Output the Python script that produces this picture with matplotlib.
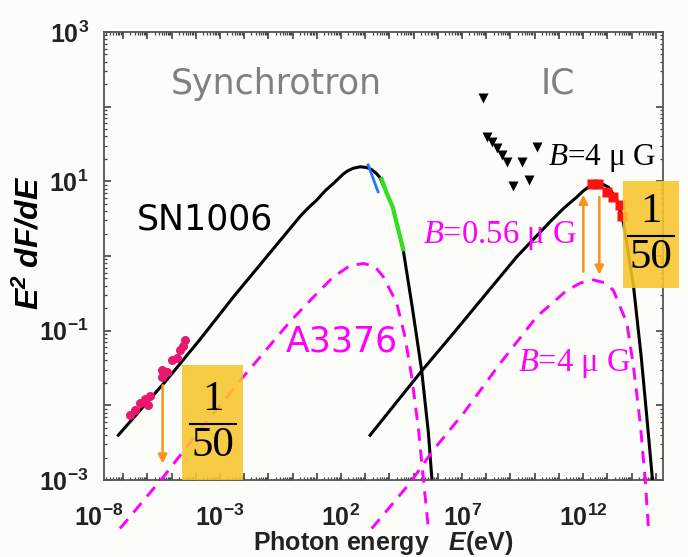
import numpy as np
import matplotlib
matplotlib.use("Agg")
from matplotlib import pyplot as plt
from matplotlib.ticker import LogLocator, FuncFormatter, NullFormatter
from matplotlib.patches import Rectangle
from matplotlib.lines import Line2D

plt.rcParams['mathtext.fontset'] = 'custom'
plt.rcParams['mathtext.rm'] = 'Liberation Serif'
plt.rcParams['mathtext.it'] = 'Liberation Serif:italic'
plt.rcParams['mathtext.bf'] = 'Liberation Sans:bold'
plt.rcParams['mathtext.sf'] = 'Liberation Sans:bold:italic'

# values, as log10(E/eV) and log10(E^2 dF/dE)
sync_logE = [-7.20, -5.20, -3.83, -2.45, -1.07, 0.31, 0.65, 1.00, 1.35, 1.68, 2.10, 2.30,
             2.51, 2.79, 3.06, 3.25, 3.45, 3.61, 3.89, 4.13, 4.57, 4.95, 5.33, 5.61, 5.75]
sync_logF = [-2.40, -1.66, -1.12, -0.55, -0.01, 0.53, 0.645, 0.75, 0.875, 0.97, 1.10, 1.145,
             1.175, 1.195, 1.185, 1.16, 1.11, 1.05, 0.84, 0.66, 0.08, -0.70, -1.53, -2.37, -2.97]

ic_logE = [3.20, 5.33, 6.50, 7.88, 9.26, 10.64, 11.20, 11.74, 12.00, 12.29, 12.50, 12.70,
           13.05, 13.39, 13.67, 14.08, 14.40, 14.63, 14.86]
ic_logF = [-2.40, -1.54, -1.09, -0.55, -0.01, 0.46, 0.64, 0.79, 0.87, 0.94, 0.97, 0.98,
           0.92, 0.76, 0.44, -0.40, -1.35, -2.15, -2.98]

a3376_logE = [-7.13, -5.34, -3.83, -2.04, -0.11, 0.86, 1.68, 2.37, 2.92, 3.40, 3.75,
              4.30, 4.64, 4.92, 5.19, 5.40, 5.61]
a3376_logF = [-3.65, -2.96, -2.33, -1.62, -0.88, -0.55, -0.28, -0.13, -0.10, -0.14, -0.28,
              -0.63, -1.08, -1.62, -2.29, -2.98, -3.65]

ic4_logE = [3.27, 4.85, 5.81, 7.05, 8.57, 10.09, 11.33, 11.90, 12.43, 12.90, 13.25,
            13.81, 14.08, 14.36, 14.56, 14.70]
ic4_logF = [-3.65, -3.04, -2.60, -2.11, -1.44, -0.81, -0.46, -0.36, -0.32, -0.36, -0.46,
            -0.90, -1.48, -2.24, -2.98, -3.65]

radio_logE = [-6.72, -6.51, -6.31, -6.10, -5.96, -5.89, -5.41, -5.41, -5.20, -5.00,
              -4.79, -4.65, -4.52, -4.45]
radio_logF = [-2.13, -2.06, -1.97, -1.91, -2.00, -1.88, -1.62, -1.53, -1.55, -1.39,
              -1.37, -1.26, -1.21, -1.13]

blue_logE = [3.12, 3.53]
blue_logF = [1.22, 0.86]
green_logE = [3.68, 3.89, 4.13, 4.57]
green_logF = [1.03, 0.84, 0.66, 0.09]

hess_logE = [12.36, 12.63, 12.98, 13.25, 13.53, 13.60]
hess_logF = [0.97, 0.97, 0.86, 0.79, 0.68, 0.53]

egret_logE = [7.86, 8.02, 8.23, 8.43, 8.64, 8.85, 9.47, 10.09, 9.10, 9.78]
egret_logF = [2.11, 1.60, 1.53, 1.44, 1.35, 1.26, 1.26, 1.46, 0.94, 1.02]

# arrows: (logE, logF start, logF end)
arrows = [(-5.37, -1.73, -2.78), (12.01, -0.21, 0.82), (12.67, 0.79, -0.25)]

W, H = 688, 557
def fx(px):
    return px / W
def fy(py):
    return 1 - py / H

bg = '#fcfcf8'
orange = '#f7941d'
magenta = '#ff00ff'

fig = plt.figure(figsize=(W / 100, H / 100), dpi=100, facecolor=bg)
ax = fig.add_axes([fx(104), fy(480), fx(663) - fx(104), fy(32) - fy(480)])
ax.set_facecolor(bg)

p = lambda v: 10 ** np.array(v)

ax.plot(p(sync_logE), p(sync_logF), color='black', lw=2.2, zorder=3)
ax.plot(p(ic_logE), p(ic_logF), color='black', lw=2.2, zorder=3)
ax.plot(p(blue_logE), p(blue_logF), color='#1e78ff', lw=2.0, zorder=4)
ax.plot(p(green_logE), p(green_logF), color='#33e01e', lw=3.0, zorder=4)
ax.plot(p(radio_logE), p(radio_logF), 'o', color='#e8186e', ms=6.5, mec='none', zorder=5)
ax.plot(p(hess_logE), p(hess_logF), 's', color='#ff1010', ms=7, mec='none', zorder=5)
ax.plot(p(egret_logE), p(egret_logF), 'v', color='black', ms=6.5, mec='none', zorder=5)

for xs, ys in [(a3376_logE, a3376_logF), (ic4_logE, ic4_logF)]:
    ax.plot(p(xs), p(ys), color=magenta, lw=2.1, dashes=(4.2, 3.0),
            clip_on=False, zorder=4)

for e, f0, f1 in arrows:
    ax.annotate('', xy=(10 ** e, 10 ** f1), xytext=(10 ** e, 10 ** f0),
                arrowprops=dict(arrowstyle='-|>', color=orange, lw=1.8,
                                mutation_scale=13, shrinkA=0, shrinkB=0),
                zorder=6)

ax.set_xscale('log')
ax.set_yscale('log')
ax.set_xlim(10 ** -7.79, 10 ** 15.30)
ax.set_ylim(1e-3, 1e3)

def xfmt(v, pos):
    e = int(round(np.log10(v)))
    return r'$\mathbf{10^{%d}}$' % e if e % 5 == 2 else ''
def yfmt(v, pos):
    e = int(round(np.log10(v)))
    return r'$\mathbf{10^{%d}}$' % e if e % 2 == 1 else ''

for axis, fmt in [(ax.xaxis, xfmt), (ax.yaxis, yfmt)]:
    axis.set_major_locator(LogLocator(base=10, numticks=60))
    axis.set_minor_locator(LogLocator(base=10, subs=np.arange(2, 10), numticks=60))
    axis.set_major_formatter(FuncFormatter(fmt))
    axis.set_minor_formatter(NullFormatter())

tick_fs = 18
ax.tick_params(which='both', direction='in', top=True, right=True, colors='#444444',
               labelcolor='#222222', labelsize=tick_fs)
ax.tick_params(which='major', length=5, width=1.2)
ax.tick_params(which='minor', length=2.5, width=0.9)
ax.tick_params(axis='x', pad=18)
ax.tick_params(axis='y', pad=11)
for s in ax.spines.values():
    s.set_color('#555555')
    s.set_linewidth(1.3)

# the 1e-8 label sits just left of the axis start
ax.annotate(r'$\mathbf{10^{-8}}$', xy=(1e-8, 0), xycoords=('data', 'axes fraction'),
            xytext=(0, -18), textcoords='offset points', ha='center', va='top',
            fontsize=tick_fs, color='#222222', annotation_clip=False)

# axis titles
fig.text(fx(383), fy(550), r'Photon energy   $\mathsf{E}$(eV)', ha='center', va='baseline',
         fontsize=18, fontweight='bold', family='Liberation Sans', color='#222222')
fig.text(fx(30), fy(243), r'$\mathsf{E^2\ dF/dE}$', rotation=90, ha='center', va='center',
         fontsize=23, color='black')

# labels
fig.text(fx(171), fy(94), 'Synchrotron', fontsize=25, color='#808080', va='baseline')
fig.text(fx(541), fy(93), 'IC', fontsize=25, color='#808080', va='baseline')
fig.text(fx(137), fy(229), 'SN1006', fontsize=25, color='black', va='baseline')
fig.text(fx(286), fy(351), 'A3376', fontsize=25, color=magenta, va='baseline')
fig.text(fx(548), fy(165), r'$B$=4 μ G', fontsize=22.5, family='Liberation Serif',
         color='black', va='baseline')
fig.text(fx(423), fy(243), r'$B$=0.56 μ G', fontsize=23.5, family='Liberation Serif',
         color=magenta, va='baseline')
fig.text(fx(518), fy(371), r'$B$=4 μ G', fontsize=23.5, family='Liberation Serif',
         color=magenta, va='baseline')

# 1/50 boxes
for x0, y0, x1, y1 in [(182, 365, 243, 480), (623, 181, 679, 288)]:
    fig.add_artist(Rectangle((fx(x0), fy(y1)), fx(x1) - fx(x0), fy(y0) - fy(y1),
                             transform=fig.transFigure, facecolor='#f8c52c',
                             edgecolor='none', alpha=0.88, zorder=5))
    cx = (x0 + x1) / 2
    cy = (y0 + y1) / 2
    fig.text(fx(cx), fy(cy - 4), '1', ha='center', va='bottom', fontsize=31,
             family='Liberation Serif', color='black', zorder=7)
    fig.text(fx(cx), fy(cy + 4), '50', ha='center', va='top', fontsize=31,
             family='Liberation Serif', color='black', zorder=7)
    fig.add_artist(Line2D([fx(cx - 23), fx(cx + 23)], [fy(cy + 1), fy(cy + 1)],
                          transform=fig.transFigure, color='black', lw=1.5, zorder=7))

fig.savefig('out.png', dpi=100, facecolor=bg)
